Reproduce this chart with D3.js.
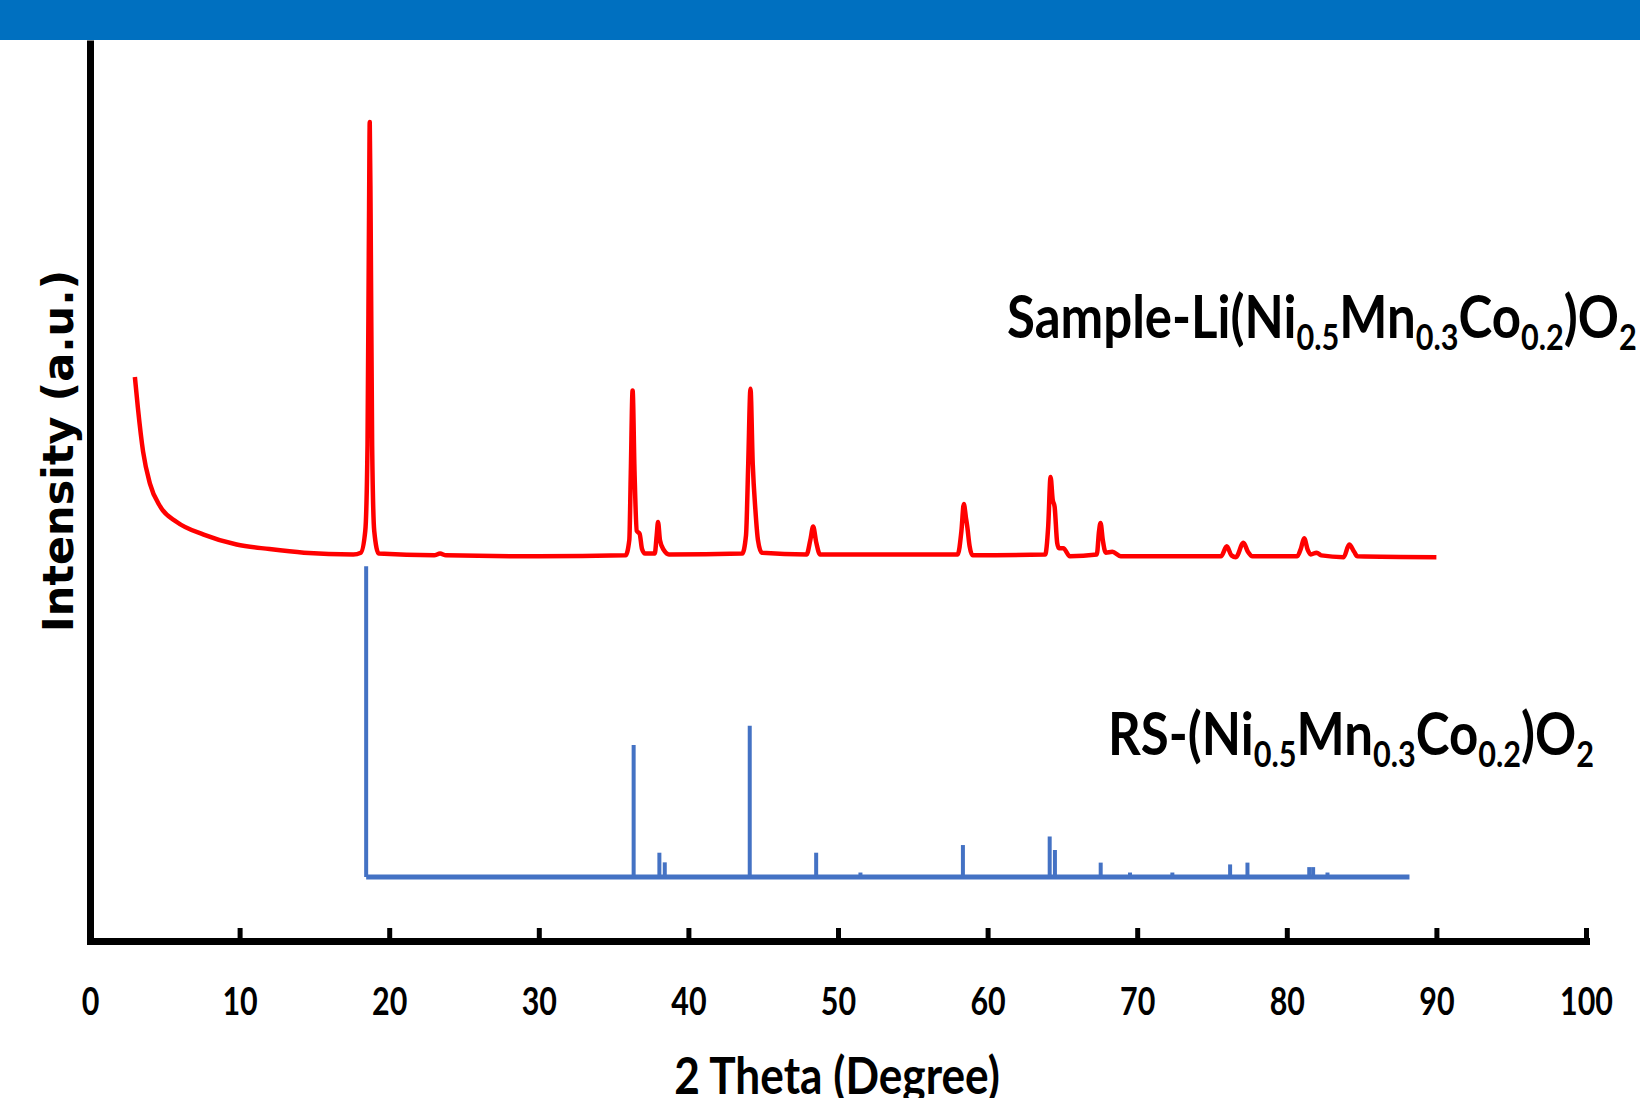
<!DOCTYPE html>
<html>
<head>
<meta charset="utf-8">
<script src="https://cdn.jsdelivr.net/npm/d3@7"></script>
<style>
  body { margin: 0; background: #fff; }
  svg { display: block; }
</style>
</head>
<body>
<svg id="chart" width="1640" height="1098"></svg>
<script>
// sample pattern (red), 2theta and intensity (a.u., offset already applied)
const sampleTheta = [3.0, 3.2, 3.55, 4.0, 4.7, 5.8, 7.6, 9.8, 12.0, 14.3, 17.6,
  18.1, 18.4, 18.55, 18.65, 18.7, 18.76, 18.86, 19.0, 19.3,
  23.0, 23.4, 23.8, 30.0, 35.8,
  36.05, 36.15, 36.27, 36.4, 36.55, 36.74, 36.9, 37.1,
  37.75, 37.88, 37.97, 38.1, 38.35, 38.7,
  43.6, 43.85, 44.0, 44.15, 44.3, 44.48, 44.65, 44.9,
  47.9, 48.15, 48.34, 48.55, 48.8,
  58.0, 58.25, 58.41, 58.55, 58.64, 58.8, 59.0,
  63.85, 64.05, 64.21, 64.35, 64.48, 64.65, 64.77, 65.06, 65.5,
  67.3, 67.45, 67.55, 67.7, 67.9, 68.34, 68.9,
  75.6, 75.99, 76.3, 76.6, 77.1, 77.4, 77.7,
  80.7, 80.95, 81.16, 81.4, 81.6, 82.0, 82.3,
  83.8, 84.17, 84.5, 84.72, 90.0];
const sampleIntensity = [62.6, 59.2, 54.3, 50.8, 48.2, 46.5, 45.1, 44.0, 43.5, 43.1, 42.9,
  43.1, 45.5, 55, 80, 90.9, 80, 55, 45.5, 43.0,
  42.8, 43.0, 42.8, 42.7, 42.8,
  44.5, 52, 61.1, 52, 45.5, 45.2, 43.5, 43.0,
  43.0, 45.0, 46.5, 44.5, 43.4, 42.9,
  43.0, 45.0, 53, 61.3, 53, 47.8, 44.5, 43.1,
  42.9, 44.5, 46.0, 44.2, 42.9,
  42.9, 45.5, 48.5, 47, 46.0, 43.8, 42.8,
  42.9, 46, 51.5, 49, 48.2, 44.2, 43.6, 43.6, 42.7,
  42.9, 45.5, 46.4, 44.5, 43.1, 43.2, 42.7,
  42.7, 43.8, 42.8, 42.6, 44.2, 43.2, 42.7,
  42.7, 43.6, 44.7, 43.4, 42.9, 43.1, 42.8,
  42.6, 44.0, 43.2, 42.7, 42.6];

// reference rock-salt pattern (blue sticks)
const refTheta = [18.46, 36.34, 38.06, 38.42, 44.10, 48.54, 51.5, 58.35, 64.15, 64.5,
  67.56, 69.52, 72.35, 76.21, 77.37, 81.5, 81.76, 82.72];
const refIntensity = [41.6, 21.75, 9.8, 8.73, 23.9, 9.8, 7.6, 10.65, 11.6, 10.1,
  8.7, 7.6, 7.6, 8.5, 8.7, 8.2, 8.2, 7.6];
const refBaseline = 7.1;
const refRange = [18.46, 88.2];

const xTicks = [0, 10, 20, 30, 40, 50, 60, 70, 80, 90, 100];

const svg = d3.select("#chart");

// blue band on top
svg.append("rect")
  .attr("x", 0).attr("y", 0)
  .attr("width", 1640).attr("height", 40)
  .attr("fill", "#0070c0");

const x = d3.scaleLinear().domain([0, 100]).range([90, 1586]);
const y = d3.scaleLinear().domain([0, 100]).range([941, 40]);

const labelFont = "Lato, Carlito, sans-serif";

// Y axis (line only)
const yAxis = svg.append("g")
  .attr("transform", "translate(" + x(0) + ",0)")
  .call(d3.axisLeft(y).tickValues([]).tickSizeOuter(0));
yAxis.select(".domain")
  .attr("stroke", "#000")
  .attr("stroke-width", 7);

// X axis
const xAxis = svg.append("g")
  .attr("transform", "translate(0," + y(0) + ")")
  .call(d3.axisBottom(x).tickValues(xTicks).tickSize(-13).tickSizeOuter(0).tickPadding(47));
xAxis.select(".domain")
  .attr("stroke", "#000")
  .attr("stroke-width", 7)
  .attr("stroke-linecap", "square");
xAxis.selectAll(".tick line")
  .attr("stroke", "#000")
  .attr("stroke-width", 5);
xAxis.selectAll(".tick text")
  .attr("fill", "#000")
  .attr("font-family", labelFont)
  .attr("font-weight", "bold")
  .attr("font-size", 38)
  .attr("transform", "scale(0.8,1)");

// sample curve
const sample = sampleTheta.map((t, i) => [t, sampleIntensity[i]]);
svg.append("path")
  .datum(sample)
  .attr("fill", "none")
  .attr("stroke", "#ff0000")
  .attr("stroke-width", 4.5)
  .attr("stroke-linejoin", "round")
  .attr("d", d3.line()
    .x(d => x(d[0]))
    .y(d => y(d[1]))
    .curve(d3.curveMonotoneX));

// reference sticks
const blue = "#4472c4";
svg.append("line")
  .attr("x1", x(refRange[0])).attr("x2", x(refRange[1]))
  .attr("y1", y(refBaseline)).attr("y2", y(refBaseline))
  .attr("stroke", blue)
  .attr("stroke-width", 5);
svg.selectAll(".stick")
  .data(refTheta.map((t, i) => ({t: t, v: refIntensity[i]})))
  .join("line")
  .attr("class", "stick")
  .attr("x1", d => x(d.t)).attr("x2", d => x(d.t))
  .attr("y1", y(refBaseline)).attr("y2", d => y(d.v))
  .attr("stroke", blue)
  .attr("stroke-width", 4);

// formula labels with subscripts
function formula(px, py, parts) {
  const t = svg.append("g")
    .attr("transform", "translate(" + px + "," + py + ") scale(0.85,1)")
    .append("text")
    .attr("font-family", labelFont)
    .attr("font-weight", "bold")
    .attr("font-size", 60)
    .attr("fill", "#000");
  parts.forEach(p => {
    if (p.sub) {
      t.append("tspan").attr("font-size", 36).attr("dy", 12).text(p.s);
    } else {
      t.append("tspan").attr("dy", p.back ? -12 : 0).text(p.s);
    }
  });
}

formula(1007, 338, [
  {s: "Sample-Li(Ni"}, {s: "0.5", sub: true}, {s: "Mn", back: true}, {s: "0.3", sub: true},
  {s: "Co", back: true}, {s: "0.2", sub: true}, {s: ")O", back: true}, {s: "2", sub: true}
]);
formula(1108, 755, [
  {s: "RS-(Ni"}, {s: "0.5", sub: true}, {s: "Mn", back: true}, {s: "0.3", sub: true},
  {s: "Co", back: true}, {s: "0.2", sub: true}, {s: ")O", back: true}, {s: "2", sub: true}
]);

// axis titles
svg.append("g")
  .attr("transform", "translate(837,1094) scale(0.85,1)")
  .append("text")
  .attr("text-anchor", "middle")
  .attr("font-family", labelFont)
  .attr("font-weight", "bold")
  .attr("font-size", 52)
  .text("2 Theta (Degree)");

svg.append("text")
  .attr("transform", "translate(73,451) rotate(-90)")
  .attr("text-anchor", "middle")
  .attr("font-family", "DejaVu Sans")
  .attr("font-weight", "bold")
  .attr("font-size", 43)
  .text("Intensity (a.u.)");
</script>
</body>
</html>
